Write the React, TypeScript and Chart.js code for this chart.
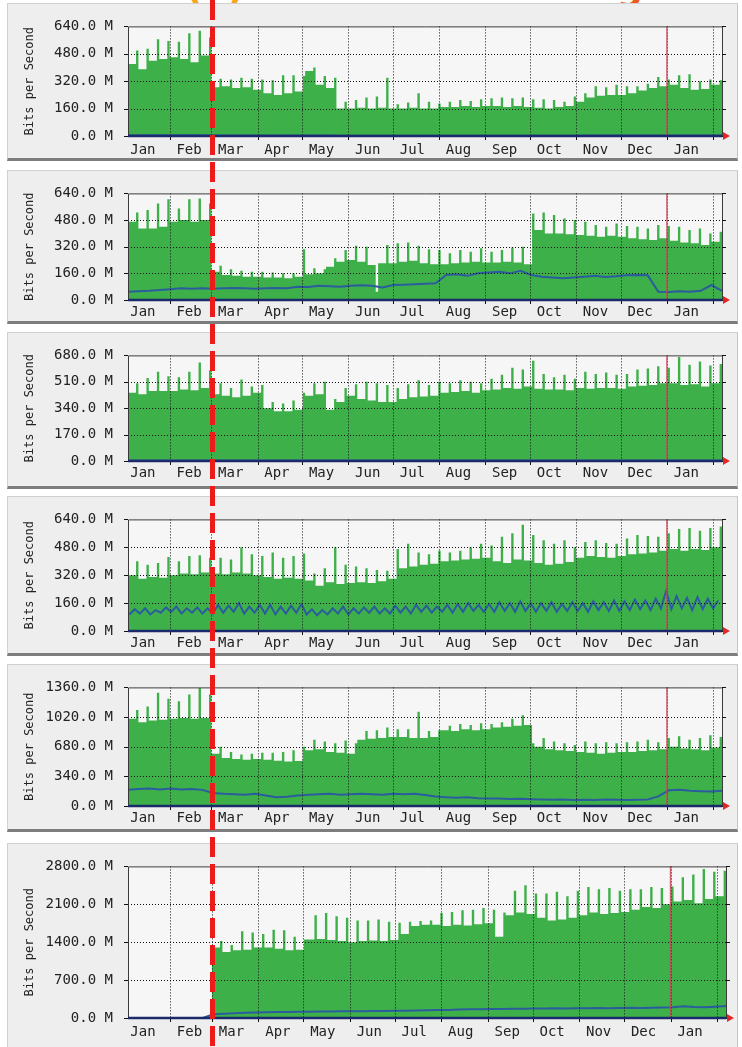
import React, { useEffect, useRef } from 'react';
import { Chart, registerables } from 'chart.js';

Chart.register(...registerables);

// ---- time axis (days counted from 1 Jan of the first year) ----
const monthStarts = [31, 59, 90, 120, 151, 181, 212, 243, 273, 304, 334, 365, 396];
const monthLabelDays = [13, 44, 72, 103, 133, 164, 194, 225, 256, 286, 317, 347, 378];
const monthLabels = ['Jan', 'Feb', 'Mar', 'Apr', 'May', 'Jun', 'Jul', 'Aug', 'Sep', 'Oct', 'Nov', 'Dec', 'Jan'];
const yearMarkDay = 365;
const firstDay = 3;
const lastDay = 402;

// ---- weekly samples (M bits/s): base level and weekday peak, 57 weeks ----
// groups per line: Jan(4) Feb(4) Mar(5) Apr(4) May(5) Jun(4) Jul(4) Aug(5) Sep(4) Oct(4) Nov(5) Dec(4) Jan(5)
const p1Base = [
  420, 390, 440, 450, 460, 450, 430, 470, 285, 290, 280, 285, 270, 250, 240, 250, 260,
  380, 300, 280, 160, 160, 165, 160, 165, 160, 160, 165, 160, 160, 170, 170, 175, 170, 175,
  175, 170, 175, 170, 165, 160, 170, 175, 200, 225, 235, 240, 240, 250, 265, 280, 290,
  300, 280, 270, 275, 300,
];
const p1Peak = [
  500, 510, 565, 555, 550, 600, 615, 575, 335, 330, 340, 335, 330, 325, 355, 355, 350,
  400, 350, 340, 200, 210, 225, 230, 340, 185, 195, 250, 200, 190, 200, 210, 205, 215, 220,
  225, 220, 225, 215, 215, 210, 200, 230, 250, 290, 285, 300, 290, 290, 305, 345, 330,
  355, 360, 320, 330, 325,
];
const p1Blue = [
  4, 4, 5, 4, 5, 5, 4, 5, 3, 3, 3, 3, 3, 3, 3, 3, 3,
  3, 3, 3, 2, 2, 2, 2, 2, 2, 2, 2, 2, 2, 2, 2, 2, 2, 2,
  2, 2, 2, 2, 2, 2, 2, 2, 3, 3, 3, 3, 3, 3, 3, 3, 3,
  3, 3, 3, 3, 3,
];

const p2Base = [
  470, 430, 430, 440, 470, 480, 470, 480, 170, 150, 145, 140, 140, 135, 135, 130, 140,
  155, 160, 200, 230, 240, 230, 210, 220, 220, 230, 235, 220, 215, 215, 220, 225, 230, 225,
  225, 230, 225, 215, 420, 400, 400, 395, 390, 385, 380, 385, 380, 370, 365, 360, 370,
  355, 345, 340, 330, 350,
];
const p2Peak = [
  525, 540, 580, 605, 550, 605, 610, 580, 205, 185, 175, 170, 170, 165, 160, 160, 305,
  190, 185, 250, 300, 325, 320, 50, 330, 340, 345, 325, 305, 300, 280, 300, 290, 310, 290,
  300, 315, 320, 520, 525, 510, 490, 480, 470, 450, 440, 460, 445, 440, 430, 450, 445,
  440, 420, 430, 400, 410,
];
const p2Blue = [
  50, 52, 55, 60, 65, 70, 68, 70, 68, 70, 72, 70, 68, 70, 72, 70, 80,
  78, 85, 82, 80, 85, 88, 85, 75, 90, 92, 95, 98, 100, 150, 155, 145, 160, 165,
  170, 160, 175, 150, 140, 135, 130, 135, 140, 145, 138, 142, 148, 150, 148, 50, 48,
  52, 50, 55, 90, 55,
];

const p3Base = [
  440, 430, 450, 450, 450, 460, 455, 470, 430, 420, 410, 420, 440, 340, 320, 320, 330,
  420, 430, 330, 380, 420, 400, 390, 380, 380, 400, 410, 415, 420, 440, 445, 450, 440, 455,
  460, 470, 465, 480, 465, 460, 460, 455, 470, 465, 470, 470, 465, 480, 485, 490, 500,
  500, 490, 495, 480, 500,
];
const p3Peak = [
  500, 535, 575, 545, 540, 575, 635, 585, 500, 470, 525, 480, 490, 380, 370, 390, 440,
  500, 510, 400, 470, 495, 510, 500, 490, 470, 495, 520, 490, 510, 500, 520, 510, 500, 530,
  555, 600, 590, 645, 560, 540, 555, 530, 575, 560, 570, 555, 560, 590, 595, 610, 600,
  670, 620, 640, 615, 625,
];
const p3Blue = [
  3, 3, 3, 3, 3, 3, 3, 3, 3, 3, 3, 3, 3, 3, 3, 3, 3,
  3, 3, 3, 3, 3, 3, 3, 3, 3, 3, 3, 3, 3, 3, 3, 3, 3, 3,
  3, 3, 3, 3, 3, 3, 3, 3, 3, 3, 3, 3, 3, 3, 3, 3, 3,
  3, 3, 3, 3, 3,
];

const p4Base = [
  320, 300, 310, 305, 320, 330, 325, 335, 330, 325, 335, 330, 320, 310, 300, 305, 300,
  290, 260, 280, 270, 275, 280, 275, 285, 300, 360, 370, 380, 385, 400, 405, 410, 415, 420,
  400, 390, 410, 405, 390, 380, 385, 395, 420, 430, 425, 420, 430, 440, 445, 450, 460,
  470, 460, 470, 465, 480,
];
const p4Peak = [
  400, 380, 390, 425, 400, 430, 435, 420, 420, 410, 480, 440, 430, 450, 420, 430, 445,
  330, 360, 480, 380, 370, 360, 350, 345, 470, 500, 450, 440, 460, 450, 460, 480, 500, 490,
  540, 560, 610, 550, 520, 500, 520, 480, 510, 520, 505, 500, 530, 550, 545, 540, 560,
  585, 590, 575, 590, 600,
];
const p4BlueLow = [
  95, 100, 95, 105, 110, 100, 105, 100, 100, 105, 110, 100, 105, 100, 95, 100, 105,
  95, 90, 95, 100, 95, 100, 105, 100, 100, 105, 100, 110, 105, 110, 105, 110, 115, 110,
  110, 115, 110, 115, 110, 115, 110, 115, 115, 110, 120, 115, 115, 120, 125, 120, 130,
  125, 130, 120, 125, 130,
];
const p4BlueHigh = [
  125, 130, 120, 135, 140, 130, 135, 130, 150, 145, 160, 140, 150, 150, 140, 145, 155,
  125, 120, 130, 140, 130, 135, 140, 130, 145, 140, 150, 145, 140, 150, 155, 160, 150, 155,
  165, 160, 170, 160, 160, 165, 155, 165, 160, 170, 165, 175, 170, 180, 175, 185, 230,
  200, 190, 195, 185, 175,
];

const p5Base = [
  1000, 960, 980, 990, 1000, 1010, 1000, 1010, 600, 550, 540, 530, 540, 530, 520, 510, 515,
  640, 650, 620, 610, 600, 760, 770, 780, 790, 790, 780, 780, 790, 870, 860, 880, 870, 880,
  900, 910, 920, 930, 680, 650, 640, 630, 620, 610, 600, 610, 620, 620, 630, 640, 650,
  680, 660, 650, 640, 670,
];
const p5Peak = [
  1100, 1140, 1300, 1230, 1200, 1280, 1355, 1280, 680, 620, 590, 600, 610, 610, 620, 640, 680,
  760, 740, 720, 750, 720, 860, 870, 900, 880, 880, 1080, 860, 870, 920, 940, 930, 950, 940,
  960, 1000, 1040, 720, 780, 740, 720, 700, 740, 720, 730, 720, 730, 740, 760, 730, 780,
  800, 760, 780, 810, 790,
];
const p5Blue = [
  185, 195, 200, 190, 200, 190, 195, 185, 150, 140, 135, 130, 140, 120, 100, 105, 120,
  130, 135, 140, 130, 135, 140, 135, 130, 140, 135, 140, 125, 110, 100, 95, 100, 90, 85,
  85, 80, 82, 78, 75, 72, 75, 70, 72, 70, 74, 72, 70, 72, 75, 110, 180,
  185, 175, 170, 165, 175,
];

const p6Base = [
  0, 0, 0, 0, 0, 0, 0, 0, 1300, 1220, 1250, 1260, 1300, 1300, 1280, 1250, 1260,
  1450, 1460, 1440, 1420, 1400, 1420, 1430, 1420, 1440, 1550, 1700, 1720, 1720, 1700, 1720, 1710, 1730, 1750,
  1500, 1900, 1950, 1920, 1850, 1800, 1820, 1850, 1900, 1950, 1920, 1940, 1960, 2000, 2050, 2030, 2100,
  2150, 2180, 2120, 2200, 2250,
];
const p6Peak = [
  0, 0, 0, 0, 0, 0, 0, 0, 1420, 1350, 1600, 1580, 1550, 1630, 1620, 1500, 1450,
  1900, 1940, 1880, 1850, 1800, 1800, 1820, 1780, 1760, 1780, 1790, 1800, 1940, 1960, 1990, 2000, 2030, 2000,
  1950, 2350, 2450, 2300, 2300, 2330, 2250, 2350, 2420, 2380, 2400, 2350, 2380, 2380, 2420, 2400, 2430,
  2600, 2650, 2750, 2700, 2720,
];
const p6Blue = [
  0, 0, 0, 0, 0, 0, 0, 0, 70, 80, 90, 95, 100, 105, 110, 110, 115,
  115, 120, 120, 125, 125, 125, 130, 130, 135, 135, 140, 145, 150, 150, 155, 160, 160, 165,
  165, 170, 170, 175, 175, 180, 175, 180, 180, 185, 180, 185, 190, 185, 190, 195, 200,
  215, 205, 200, 210, 220,
];

const yMaxes = [640, 640, 680, 640, 1360, 2800];

// ---- layout (page pixels) ----
const layouts = [
  { top: 3, bottom: 161, plotTop: 20, plotBottom: 136, plotRight: 722, labelPad: 6 },
  { top: 170, bottom: 324, plotTop: 187, plotBottom: 300, plotRight: 722, labelPad: 4 },
  { top: 332, bottom: 489, plotTop: 348, plotBottom: 461, plotRight: 722, labelPad: 4 },
  { top: 496, bottom: 656, plotTop: 512, plotBottom: 631, plotRight: 722, labelPad: 4 },
  { top: 664, bottom: 832, plotTop: 685, plotBottom: 806, plotRight: 722, labelPad: 4 },
  { top: 843, bottom: 1050, plotTop: 864, plotBottom: 1018, plotRight: 726, labelPad: 6 },
];

const panelData = [
  { base: p1Base, peak: p1Peak, blue: p1Blue },
  { base: p2Base, peak: p2Peak, blue: p2Blue },
  { base: p3Base, peak: p3Peak, blue: p3Blue },
  { base: p4Base, peak: p4Peak, blueLow: p4BlueLow, blueHigh: p4BlueHigh },
  { base: p5Base, peak: p5Peak, blue: p5Blue },
  { base: p6Base, peak: p6Peak, blue: p6Blue },
];

const CANVAS_LEFT = 8;
const CANVAS_W = 730;
const PLOT_LEFT = 128;
const PEAK_DAYS = 1.6;
const FONT = '"DejaVu Sans Mono", "Liberation Mono", monospace';
const GREEN = '#3eb04a';
const BLUE = '#2a5c9e';
const NAVY = '#1b2a6a';
const PLOT_BG = '#f6f6f6';

const mrtgPlugin = {
  id: 'mrtgDecor',
  beforeDraw(chart: any) {
    const { ctx, chartArea: a } = chart;
    ctx.save();
    ctx.fillStyle = PLOT_BG;
    ctx.fillRect(a.left, a.top, a.right - a.left, a.bottom - a.top);
    ctx.restore();
  },
  afterDraw(chart: any) {
    const { ctx, chartArea: a, scales } = chart;
    const xs = scales.x;
    const ys = scales.y;
    ctx.save();
    // dotted grid on top of the data (MRTG style)
    ctx.strokeStyle = '#111';
    ctx.lineWidth = 1;
    ctx.setLineDash([1, 2]);
    ctx.beginPath();
    monthStarts.forEach((v) => {
      const x = Math.round(xs.getPixelForValue(v)) + 0.5;
      if (x > a.left + 1 && x < a.right - 1) {
        ctx.moveTo(x, a.top);
        ctx.lineTo(x, a.bottom);
      }
    });
    ys.ticks.forEach((t: any) => {
      const y = Math.round(ys.getPixelForValue(t.value)) + 0.5;
      if (y > a.top + 1 && y < a.bottom - 1) {
        ctx.moveTo(a.left, y);
        ctx.lineTo(a.right, y);
      }
    });
    ctx.stroke();
    ctx.setLineDash([]);
    // year marker
    const xm = xs.getPixelForValue(yearMarkDay);
    ctx.strokeStyle = 'rgba(200,70,90,0.85)';
    ctx.lineWidth = 1.5;
    ctx.beginPath();
    ctx.moveTo(xm, a.top);
    ctx.lineTo(xm, a.bottom);
    ctx.stroke();
    // frame
    ctx.strokeStyle = '#3a3a3a';
    ctx.lineWidth = 1;
    ctx.beginPath();
    ctx.moveTo(a.left + 0.5, a.bottom);
    ctx.lineTo(a.left + 0.5, a.top + 0.5);
    ctx.lineTo(a.right + 0.5, a.top + 0.5);
    ctx.lineTo(a.right + 0.5, a.bottom);
    ctx.stroke();
    // tick marks
    ctx.strokeStyle = '#111';
    ctx.beginPath();
    ys.ticks.forEach((t: any) => {
      const y = Math.round(ys.getPixelForValue(t.value)) + 0.5;
      ctx.moveTo(a.left - 4, y);
      ctx.lineTo(a.left, y);
      ctx.moveTo(a.right, y);
      ctx.lineTo(a.right + 4, y);
    });
    monthStarts.forEach((v) => {
      const x = Math.round(xs.getPixelForValue(v)) + 0.5;
      if (x <= a.right) {
        ctx.moveTo(x, a.bottom);
        ctx.lineTo(x, a.bottom + 4);
      }
    });
    ctx.stroke();
    // baseline
    ctx.strokeStyle = NAVY;
    ctx.lineWidth = 2.5;
    ctx.beginPath();
    ctx.moveTo(a.left, a.bottom);
    ctx.lineTo(a.right, a.bottom);
    ctx.stroke();
    // arrow
    ctx.fillStyle = '#e02828';
    ctx.beginPath();
    ctx.moveTo(a.right + 1, a.bottom - 4);
    ctx.lineTo(a.right + 8, a.bottom);
    ctx.lineTo(a.right + 1, a.bottom + 4);
    ctx.closePath();
    ctx.fill();
    ctx.restore();
  },
};

function Panel({ index }: { index: number }) {
  const ref = useRef<HTMLCanvasElement>(null);
  const lay = layouts[index];
  const h = lay.bottom - lay.top;

  useEffect(() => {
    const d: any = panelData[index];
    const yMax = yMaxes[index];
    const green: any[] = [];
    d.base.forEach((b: number, w: number) => {
      green.push({ x: firstDay + 7 * w, y: b });
      green.push({ x: firstDay + 7 * w + 7 - PEAK_DAYS, y: d.peak[w] });
    });
    green.push({ x: lastDay, y: d.base[d.base.length - 1] });

    let blue: any[] = [];
    if (d.blue) {
      const n = d.blue.length;
      blue = d.blue.map((v: number, w: number) => ({ x: firstDay + (w * (lastDay - firstDay)) / (n - 1), y: v }));
    } else {
      d.blueLow.forEach((v: number, w: number) => {
        blue.push({ x: firstDay + 7 * w + 1, y: v });
        blue.push({ x: firstDay + 7 * w + 4.5, y: d.blueHigh[w] });
      });
    }

    const allXTicks = [...monthStarts, ...monthLabelDays].sort((p, q) => p - q);

    const chart = new Chart(ref.current as HTMLCanvasElement, {
      type: 'line',
      data: {
        datasets: [
          {
            data: green,
            stepped: true,
            fill: 'origin',
            backgroundColor: GREEN,
            borderColor: 'rgba(0,0,0,0)',
            borderWidth: 0,
            pointRadius: 0,
            order: 2,
          } as any,
          {
            data: blue,
            borderColor: BLUE,
            borderWidth: 2,
            pointRadius: 0,
            fill: false,
            tension: 0,
            order: 1,
          } as any,
        ],
      },
      options: {
        responsive: false,
        animation: false,
        events: [],
        layout: {
          padding: { left: 0, top: lay.plotTop - lay.top, right: CANVAS_LEFT + CANVAS_W - lay.plotRight, bottom: 0 },
        },
        plugins: { legend: { display: false }, tooltip: { enabled: false } },
        scales: {
          x: {
            type: 'linear',
            min: firstDay,
            max: lastDay,
            afterBuildTicks: (s: any) => {
              s.ticks = allXTicks.map((v) => ({ value: v }));
            },
            afterFit: (s: any) => {
              s.height = lay.bottom - lay.plotBottom;
            },
            grid: { display: false, drawTicks: false },
            border: { display: false },
            ticks: {
              autoSkip: false,
              maxRotation: 0,
              padding: lay.labelPad,
              color: '#222',
              font: { family: FONT, size: 14 },
              callback: (v: any) => {
                const i = monthLabelDays.indexOf(Number(v));
                return i >= 0 ? monthLabels[i] : '';
              },
            },
          } as any,
          y: {
            type: 'linear',
            min: 0,
            max: yMax,
            afterBuildTicks: (s: any) => {
              s.ticks = [0, 1, 2, 3, 4].map((i) => ({ value: (yMax * i) / 4 }));
            },
            afterFit: (s: any) => {
              s.width = PLOT_LEFT - CANVAS_LEFT;
            },
            grid: { display: false, drawTicks: false },
            border: { display: false },
            ticks: {
              padding: 15,
              color: '#222',
              font: { family: FONT, size: 14 },
              callback: (v: any) => Number(v).toFixed(1) + ' M',
            },
            title: {
              display: true,
              text: 'Bits per Second',
              color: '#222',
              font: { family: FONT, size: 12 },
              padding: { top: 15, bottom: 0 },
            },
          } as any,
        },
      },
      plugins: [mrtgPlugin],
    });
    return () => chart.destroy();
  }, [index]);

  return (
    <canvas
      ref={ref}
      width={CANVAS_W}
      height={h}
      style={{ position: 'absolute', left: CANVAS_LEFT, top: lay.top, width: CANVAS_W, height: h }}
    />
  );
}

export default function App() {
  return (
    <div
      style={{
        position: 'absolute',
        left: 0,
        top: 0,
        width: 742,
        height: 1047,
        overflow: 'hidden',
        background: '#ffffff',
      }}
    >
      <div
        style={{
          position: 'absolute',
          left: 186,
          top: -30,
          fontFamily: '"DejaVu Sans", sans-serif',
          fontWeight: 'bold',
          fontSize: 36,
          lineHeight: '36px',
          color: '#f5a623',
          whiteSpace: 'nowrap',
        }}
      >
        (1)
      </div>
      <div
        style={{
          position: 'absolute',
          left: 617,
          top: -30,
          fontFamily: '"DejaVu Sans", sans-serif',
          fontWeight: 'bold',
          fontSize: 36,
          lineHeight: '36px',
          color: '#ef5a1c',
          whiteSpace: 'nowrap',
        }}
      >
        g
      </div>
      {layouts.map((l, i) => (
        <div
          key={'f' + i}
          style={{
            position: 'absolute',
            left: 7,
            top: l.top,
            width: 731,
            height: l.bottom - l.top,
            boxSizing: 'border-box',
            background: '#eeeeee',
            borderTop: '1px solid #d0d0d0',
            borderLeft: '1px solid #d0d0d0',
            borderRight: '1px solid #c4c4c4',
            borderBottom: '3px solid #7d7d7d',
          }}
        />
      ))}
      {layouts.map((_, i) => (
        <Panel key={'p' + i} index={i} />
      ))}
      <div
        style={{
          position: 'absolute',
          left: 210,
          top: 0,
          width: 5,
          height: 1047,
          background:
            'repeating-linear-gradient(to bottom, #ee1b1b 0px, #ee1b1b 20px, rgba(0,0,0,0) 20px, rgba(0,0,0,0) 27px)',
        }}
      />
    </div>
  );
}
